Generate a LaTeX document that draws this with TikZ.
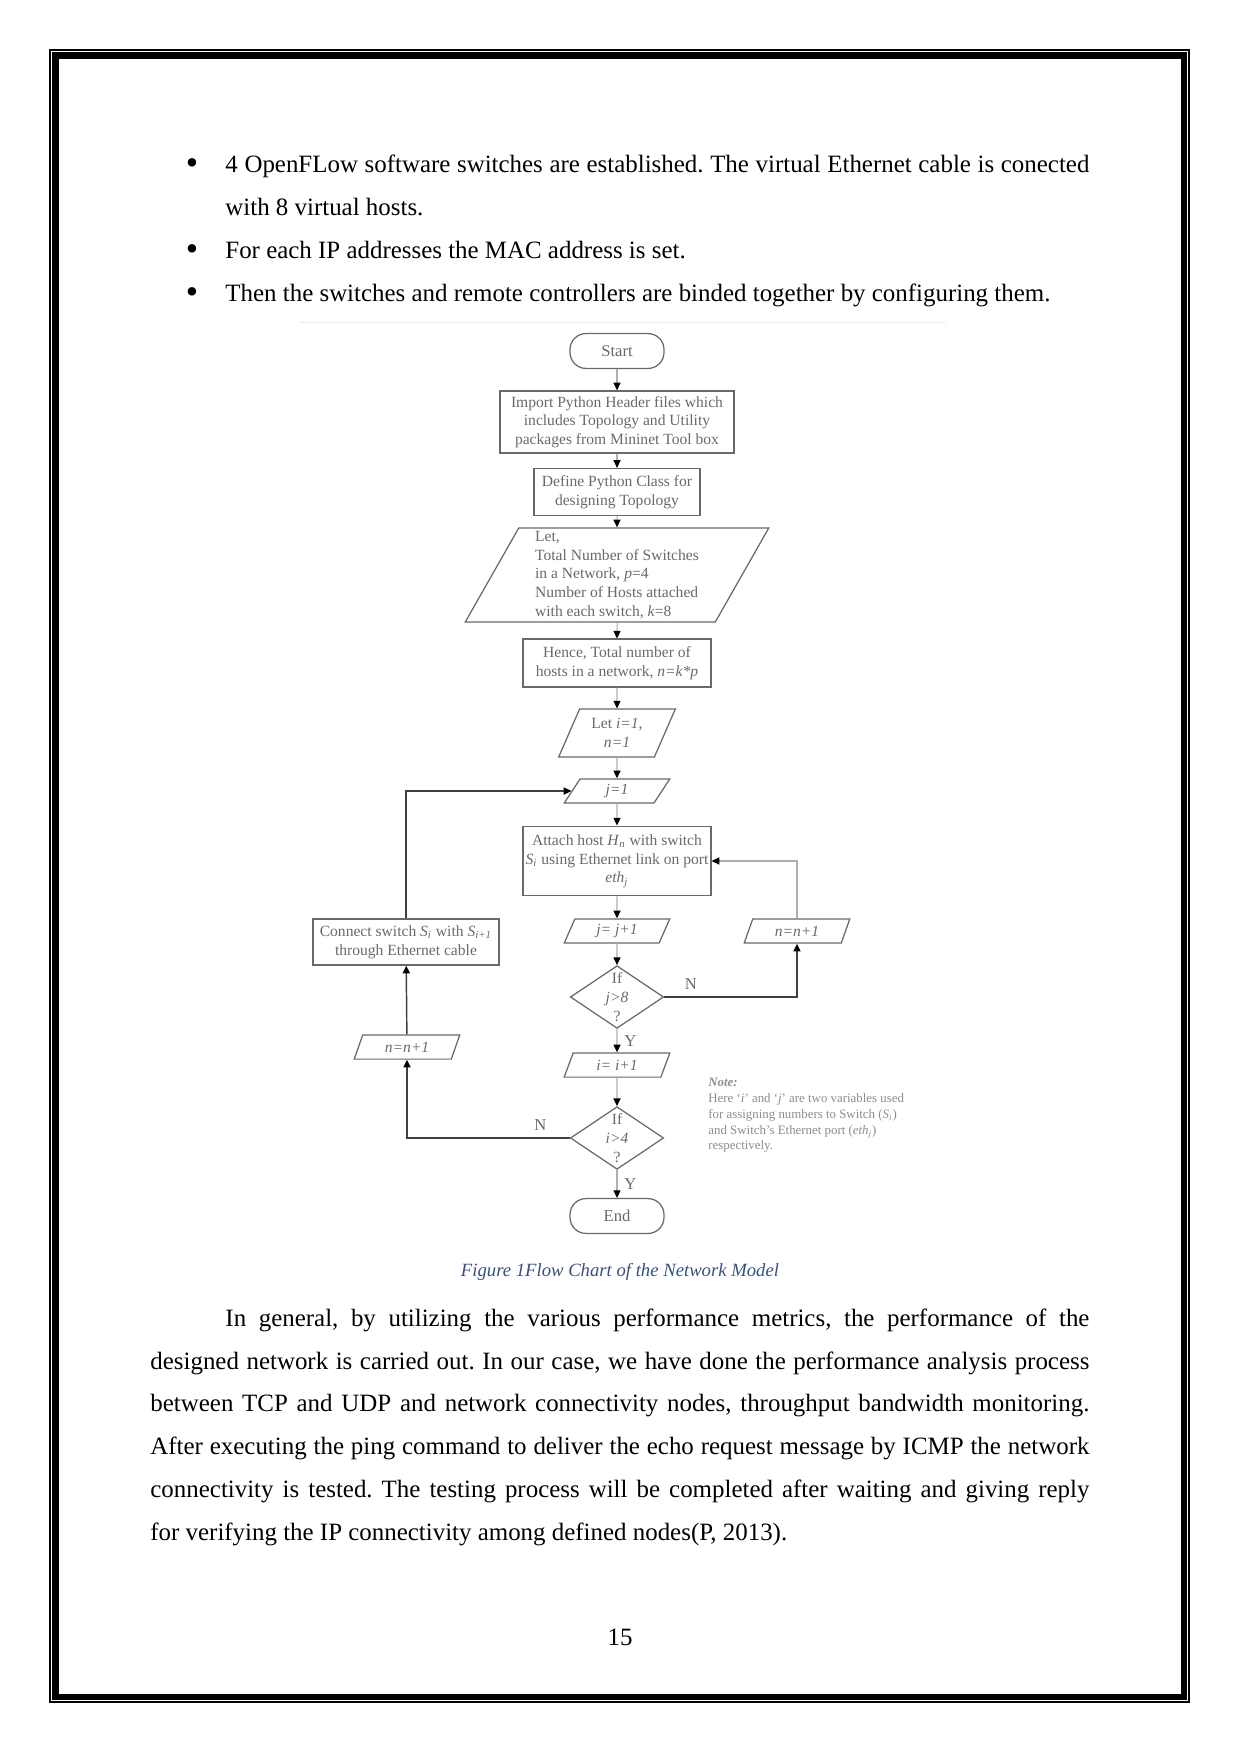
\documentclass[tikz,border=0pt]{standalone}
\usepackage{fontspec}
\setmainfont{Liberation Serif}
\usetikzlibrary{shapes.geometric,arrows.meta}
\frenchspacing

\definecolor{capblue}{RGB}{55,80,125}
\definecolor{chartgray}{RGB}{105,105,105}
\definecolor{linegray}{RGB}{175,175,175}

\tikzset{
  chart/.style={font=\fontsize{7.5}{9}\selectfont, text=chartgray},
  procbox/.style={chart, draw=chartgray, line width=0.6pt, rectangle, align=center, inner sep=1pt},
  termbox/.style={procbox, rounded corners=2.7mm, minimum width=15.9mm, minimum height=5.9mm, font=\fontsize{8}{9}\selectfont},
  iobox/.style={chart, draw=chartgray, line width=0.6pt, trapezium, trapezium stretches=true, align=center, inner sep=1pt},
  smallio/.style={iobox, trapezium left angle=72, trapezium right angle=108, minimum width=17.9mm, minimum height=4.1mm},
  decbox/.style={draw=chartgray, line width=0.6pt, diamond, minimum width=15.8mm, minimum height=10.6mm, inner sep=0pt},
  flow/.style={linegray, line width=0.5pt, -{Triangle[length=1.3mm,width=1.2mm,black]}},
  backflow/.style={black!75, line width=0.7pt, -{Triangle[length=1.3mm,width=1.2mm,black]}},
  yn/.style={chart, font=\fontsize{8}{9}\selectfont},
  bodytext/.style={anchor=base west, inner sep=0pt, align=justify, font=\fontsize{12}{20.7}\selectfont},
  bulletdot/.style={anchor=base, inner sep=0pt, font=\fontsize{17}{18}\selectfont},
}

\begin{document}
\begin{tikzpicture}[x=0.16922mm, y=-0.16922mm]
 \useasboundingbox (0,0) rectangle (1241,1754);
 % page frame
 \draw[line width=0.95pt] (50,50) rectangle (1189,1702);
 \draw[line width=2.9pt] (55.5,55.5) rectangle (1183.5,1696.5);

 % bullet list
 \node[bulletdot] (dot1) at (192,175) {\textbullet};
 \node[bodytext, text width=146.2mm] (item1) at (225,173)
  {4 OpenFLow software switches are established. The virtual Ethernet cable is conected\linebreak with 8 virtual hosts.};
 \node[bulletdot] (dot2) at (192,261) {\textbullet};
 \node[bodytext, text width=146.2mm] (item2) at (225,259) {For each IP addresses the MAC address is set.};
 \node[bulletdot] (dot3) at (192,304) {\textbullet};
 \node[bodytext, text width=146.2mm] (item3) at (225,302) {Then the switches and remote controllers are binded together by configuring them.};

 % flow chart
 \draw[black!8] (300,322) -- (946,322);
 \node[termbox] (start) at (617,351) {Start};
 \node[procbox, minimum width=39.6mm, minimum height=10.5mm] (import) at (617,422)
  {Import Python Header files which\\includes Topology and Utility\\packages from Mininet Tool box};
 \node[procbox, minimum width=28.1mm, minimum height=7.95mm] (define) at (617,492)
  {Define Python Class for\\designing Topology};
 \node[iobox, trapezium left angle=63, trapezium right angle=117, minimum width=51.4mm, minimum height=15.9mm, align=left, inner sep=0pt] (letvars) at (617,575)
  {Let,\\Total Number of Switches\\in a Network, \textit{p}=4\\Number of Hosts attached\\with each switch, \textit{k}=8};
 \node[procbox, minimum width=31.8mm, minimum height=8.1mm] (hence) at (617,663)
  {Hence, Total number of\\hosts in a network, \textit{n=k*p}};
 \node[iobox, trapezium left angle=65, trapezium right angle=115, minimum width=19.8mm, minimum height=8.1mm] (leti) at (617,733)
  {Let \textit{i=1},\\\textit{n=1}};
 \node[smallio] (jone) at (617,791) {\textit{j=1}};
 \node[procbox, minimum width=31.8mm, minimum height=11.8mm] (attach) at (617,861)
  {Attach host \textit{H}\textsubscript{\textit{n}} with switch\\\textit{S}\textsubscript{\textit{i}} using Ethernet link on port\\\textit{eth}\textsubscript{\textit{j}}};
 \node[smallio] (jinc) at (617,931) {\textit{j= j+1}};
 \node[smallio] (nincR) at (797,931) {\textit{n=n+1}};
 \node[decbox, label={[chart, align=center]center:{If\\\textit{j>8}\\?}}] (jtest) at (617,997) {};
 \node[smallio] (iinc) at (617,1065) {\textit{i= i+1}};
 \node[decbox, label={[chart, align=center]center:{If\\\textit{i>4}\\?}}] (itest) at (617,1138) {};
 \node[termbox] (stop) at (617,1216) {End};
 \node[smallio] (nincL) at (407,1047) {\textit{n=n+1}};
 \node[procbox, minimum width=31.5mm, minimum height=7.8mm] (connect) at (406,942)
  {Connect switch \textit{S}\textsubscript{\textit{i}} with \textit{S}\textsubscript{\textit{i+1}}\\through Ethernet cable};

 \draw[flow] (start) -- (import);
 \draw[flow] (import) -- (define);
 \draw[flow] (define) -- (letvars);
 \draw[flow] (letvars) -- (hence);
 \draw[flow] (hence) -- (leti);
 \draw[flow] (leti) -- (jone);
 \draw[flow] (jone) -- (attach);
 \draw[flow] (attach) -- (jinc);
 \draw[flow] (jinc) -- (jtest);
 \draw[flow] (jtest) -- node[yn, right] {Y} (iinc);
 \draw[flow] (iinc) -- (itest);
 \draw[flow] (itest) -- node[yn, right] {Y} (stop);
 \draw[backflow] (jtest.east) -| node[yn, above, pos=0.1] {N} (nincR.south);
 \draw[flow] (nincR.north) |- (attach.east);
 \draw[backflow] (itest.west) -| node[yn, above, pos=0.09] {N} (nincL.south);
 \draw[backflow] (nincL) -- (connect);
 \draw[backflow] (connect.north) |- (jone.west);

 \node[anchor=north west, inner sep=0pt, align=left, font=\fontsize{6.2}{7.6}\selectfont, text=black!45] (note) at (708,1078)
  {\textbf{\textit{Note:}}\\Here `\textit{i}' and `\textit{j}' are two variables used\\for assigning numbers to Switch (\textit{S}\textsubscript{\textit{i}})\\and Switch's Ethernet port (\textit{eth}\textsubscript{\textit{j}})\\respectively.};

 % caption and text below
 \node[anchor=base, font=\fontsize{9}{11}\selectfont\itshape, text=capblue] (caption) at (620,1276)
  {Figure 1Flow Chart of the Network Model};
 \node[bodytext, text width=158.9mm] (para) at (150,1326)
  {\hspace*{12.7mm}In general, by utilizing the various performance metrics, the performance of the\linebreak
   designed network is carried out. In our case, we have done the performance analysis process\linebreak
   between TCP and UDP and network connectivity nodes, throughput bandwidth monitoring.\linebreak
   After executing the ping command to deliver the echo request message by ICMP the network\linebreak
   connectivity is tested. The testing process will be completed after waiting and giving reply\linebreak
   for verifying the IP connectivity among defined nodes(P, 2013).};
 \node[anchor=base, font=\fontsize{12}{14}\selectfont] (pagenum) at (620,1645) {15};
\end{tikzpicture}
\end{document}
